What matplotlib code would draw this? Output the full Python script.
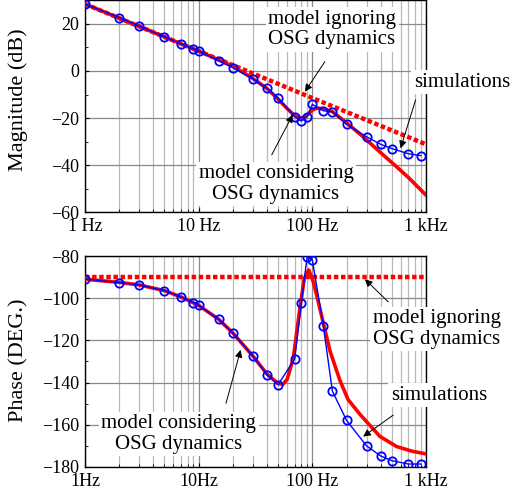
import numpy as np
import matplotlib
matplotlib.use("Agg")
import matplotlib.pyplot as plt
from matplotlib.ticker import FixedLocator, LogLocator, NullFormatter, MultipleLocator

plt.rcParams['font.family'] = ['Liberation Serif', 'DejaVu Serif']
plt.rcParams['axes.unicode_minus'] = True

# ---- data ----
# simulation points (blue circles)
f_sim = [1, 2, 3, 5, 7, 9, 10, 15, 20, 30, 40, 50, 70, 80, 90, 100, 125, 150,
         200, 300, 400, 500, 700, 900]
mag_sim = [28.5, 22.7, 19.1, 14.6, 11.5, 9.4, 8.5, 4.4, 1.4, -3.3, -7.4, -11.5,
           -19.4, -21.3, -19.4, -14.2, -16.9, -17.3, -22.7, -28.0, -31.2, -33.0,
           -35.2, -36.0]
ph_sim = [-90.9, -92.6, -93.7, -96.4, -99.4, -102.1, -103.4, -110.0, -116.5,
          -127.4, -136.3, -141.0, -128.7, -102.4, -80.3, -81.9, -113.2, -144.0,
          -157.9, -170.0, -174.8, -177.0, -178.6, -178.6]

# model considering OSG dynamics (red solid)
f_mc = [1, 2, 5, 10, 20, 30, 40, 50, 60, 70, 80, 90, 100, 110, 125, 150, 200,
        280, 400, 550, 700, 1000]
mag_mc = [28.5, 22.5, 14.5, 8.5, 2.0, -3.2, -7.5, -12.0, -16.0, -19.0, -20.2,
          -18.8, -16.6, -15.8, -16.0, -17.3, -22.0, -28.0, -34.8, -40.7, -45.3,
          -52.8]
f_mc_ph = [1, 2, 3, 5, 7, 10, 15, 20, 30, 40, 50, 55, 60, 68, 77, 85, 93, 102,
           112, 124, 143, 175, 206, 262, 393, 551, 750, 1000]
ph_mc = [-91.0, -92.5, -93.7, -96.4, -99.4, -103.4, -110.0, -116.5, -127.4,
         -136.0, -140.5, -140.8, -138.5, -128.5, -106.4, -90.6, -86.6, -92.2,
         -101.0, -111.0, -125.0, -139.0, -148.0, -155.0, -165.5, -170.3, -172.5,
         -173.8]

# model ignoring OSG dynamics (red dotted)
f_mi = [1, 10, 100, 1000]
mag_mi = [28.5, 8.5, -11.5, -31.2]
ph_mi = [-90, -90, -90, -90]

RED = '#ff0000'
BLUE = '#0000ff'

fig = plt.figure(figsize=(5.13, 4.95), dpi=100)
ax1 = fig.add_axes([0.1657, 0.5717, 0.6647, 0.4273])
ax2 = fig.add_axes([0.1657, 0.0566, 0.6647, 0.4262])


def style_axis(ax, ylim, xlabels):
    ax.set_xscale('log')
    ax.set_xlim(1, 1000)
    ax.set_ylim(*ylim)
    ax.xaxis.set_major_locator(FixedLocator([1, 10, 100, 1000]))
    ax.set_xticklabels(xlabels)
    ax.xaxis.set_minor_locator(LogLocator(base=10, subs=np.arange(2, 10)))
    ax.xaxis.set_minor_formatter(NullFormatter())
    ax.yaxis.set_major_locator(MultipleLocator(20))
    ax.yaxis.set_minor_locator(MultipleLocator(10))
    ax.grid(True, which='major', color='#8a8a8a', lw=0.9)
    ax.grid(True, which='minor', axis='x', color='#b8b8b8', lw=0.9)
    ax.set_axisbelow(True)
    ax.tick_params(which='both', direction='in', labelsize=13, pad=4)
    ax.tick_params(which='minor', length=2)
    ax.tick_params(which='major', length=3)
    for s in ax.spines.values():
        s.set_linewidth(1.0)


def note(ax, txt, pos):
    ax.text(pos[0], pos[1], txt, ha='center', va='center', fontsize=15,
            linespacing=1.1, zorder=10,
            bbox=dict(boxstyle='square,pad=0.12', fc='white', ec='none'))


def arrow(ax, start, head):
    ax.annotate('', xy=head, xytext=start, annotation_clip=False, zorder=11,
                arrowprops=dict(arrowstyle='-|>', color='black', lw=0.7,
                                mutation_scale=11, shrinkA=0, shrinkB=0))


# (A) magnitude
style_axis(ax1, (-60, 30), ['1 Hz', '10 Hz', '100 Hz', '1 kHz'])
ax1.plot(f_mi, mag_mi, color=RED, lw=3.2, ls=(0, (1, 0.6)), dash_capstyle='butt', zorder=3)
ax1.plot(f_mc, mag_mc, color=RED, lw=2.6, zorder=4)
ax1.plot(f_sim, mag_sim, color=BLUE, lw=1.0, marker='o', ms=6, mfc='none',
         mec=BLUE, mew=1.3, zorder=5)
ax1.set_ylabel('Magnitude (dB)', fontsize=16)
ax1.yaxis.set_label_coords(-0.167, 0.53)

note(ax1, 'model ignoring\nOSG dynamics', (149, 17.7))
arrow(ax1, (129, 4.0), (86, -8.8))
note(ax1, 'simulations', (2070, -4.7))
arrow(ax1, (810, -12.3), (598, -32.9))
note(ax1, 'model considering\nOSG dynamics', (47.9, -48.1))
arrow(ax1, (43.9, -35.7), (67.1, -18.7))

# (B) phase
style_axis(ax2, (-180, -80), ['1Hz', '10Hz', '100 Hz', '1 kHz'])
ax2.plot(f_mi, ph_mi, color=RED, lw=3.2, ls=(0, (1, 0.6)), dash_capstyle='butt', zorder=3)
ax2.plot(f_mc_ph, ph_mc, color=RED, lw=2.6, zorder=4)
ax2.plot(f_sim, ph_sim, color=BLUE, lw=1.0, marker='o', ms=6, mfc='none',
         mec=BLUE, mew=1.3, zorder=5)
ax2.set_ylabel('Phase (DEG.)', fontsize=16)
ax2.yaxis.set_label_coords(-0.167, 0.507)

note(ax2, 'model ignoring\nOSG dynamics', (1247, -114.6))
arrow(ax2, (465, -101.7), (290, -91.0))
note(ax2, 'simulations', (1298, -145.9))
arrow(ax2, (515, -155.4), (280, -165.6))
note(ax2, 'model considering\nOSG dynamics', (6.7, -164.4))
arrow(ax2, (17.4, -149.8), (23.4, -124.5))

plt.savefig("out.png", dpi=100)
